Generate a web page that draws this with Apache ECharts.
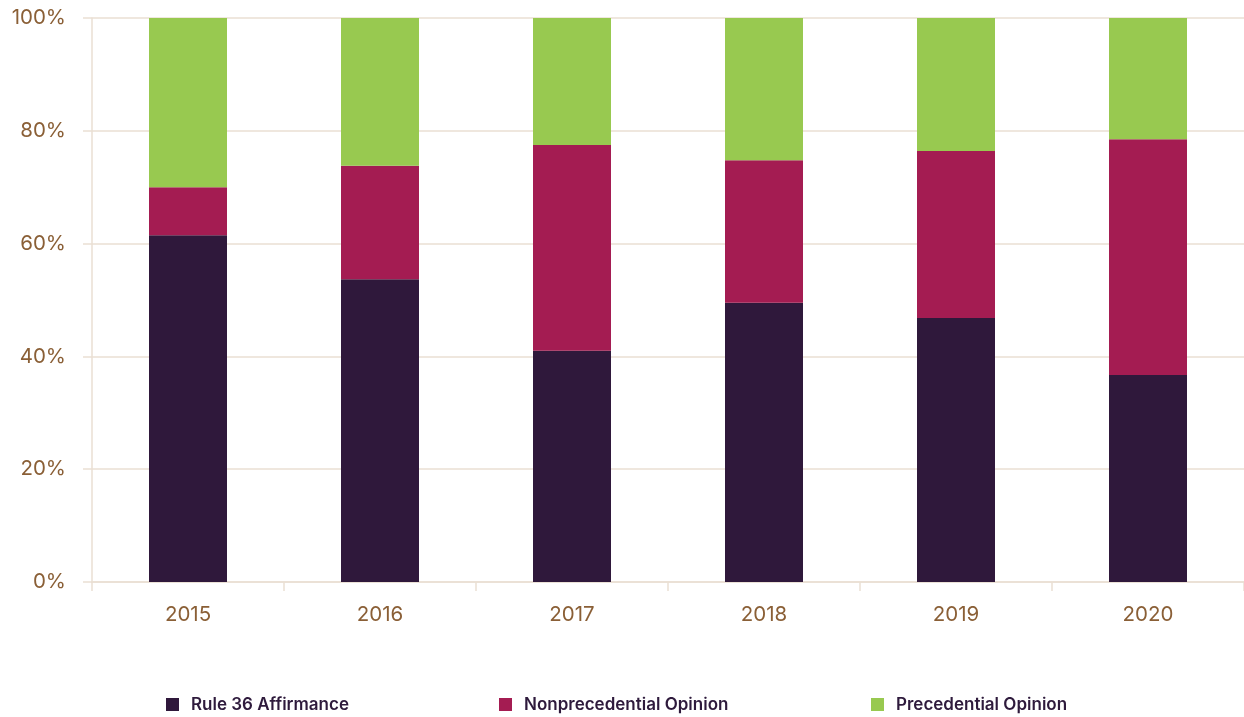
<!DOCTYPE html>
<html><head><meta charset="utf-8">
<script src="https://cdn.jsdelivr.net/npm/echarts@6/dist/echarts.min.js"></script>
<style>html,body{margin:0;padding:0;background:#fff}#c{width:1244px;height:717px}</style>
</head><body><div id="c"></div>
<script>
const categories = ['2015','2016','2017','2018','2019','2020'];
const rule36 = [61.5, 53.7, 41.0, 49.5, 46.8, 36.7];
const nonprecedential = [8.5, 20.1, 36.5, 25.3, 29.6, 41.8];
const precedential = [30.0, 26.2, 22.5, 25.2, 23.6, 21.5];
const yTicks = [0, 20, 40, 60, 80, 100];

const gridColor = '#eadfd3';
const labelColor = '#8a5f36';
const chart = echarts.init(document.getElementById('c'));
const legendText = {color:'#2e1a3c', fontSize:17, fontWeight:600, fontFamily:'Inter', padding:[0,0,0,7]};
chart.setOption({
  animation:false,
  grid:{left:92, right:0, top:18, bottom:135},
  xAxis:{type:'category', data:categories,
    axisLine:{lineStyle:{color:gridColor, width:1.5}},
    axisTick:{show:true, length:9, lineStyle:{color:gridColor, width:1.5}},
    axisLabel:{color:labelColor, fontSize:20.5, fontFamily:'Inter', margin:22}},
  yAxis:{type:'value', min:0, max:100, interval:20,
    axisLine:{show:true, lineStyle:{color:gridColor, width:1.5}},
    axisTick:{show:true, length:9, lineStyle:{color:gridColor, width:1.5}},
    splitLine:{lineStyle:{color:gridColor, width:1.5}},
    axisLabel:{color:labelColor, fontSize:20.5, fontFamily:'Inter', margin:26,
      formatter:v=> yTicks.includes(v) ? v+'%' : ''}},
  legend:[
    {data:['Rule 36 Affirmance'], left:161, top:691, itemWidth:13, itemHeight:13, icon:'rect', textStyle:legendText},
    {data:['Nonprecedential Opinion'], left:494, top:691, itemWidth:13, itemHeight:13, icon:'rect', textStyle:legendText},
    {data:['Precedential Opinion'], left:866, top:691, itemWidth:13, itemHeight:13, icon:'rect', textStyle:legendText}
  ],
  series:[
    {name:'Rule 36 Affirmance', type:'bar', stack:'a', data:rule36, barWidth:78, itemStyle:{color:'#2f183b'}},
    {name:'Nonprecedential Opinion', type:'bar', stack:'a', data:nonprecedential, barWidth:78, itemStyle:{color:'#a41c52'}},
    {name:'Precedential Opinion', type:'bar', stack:'a', data:precedential, barWidth:78, itemStyle:{color:'#98c950'}}
  ]
});
</script></body></html>
